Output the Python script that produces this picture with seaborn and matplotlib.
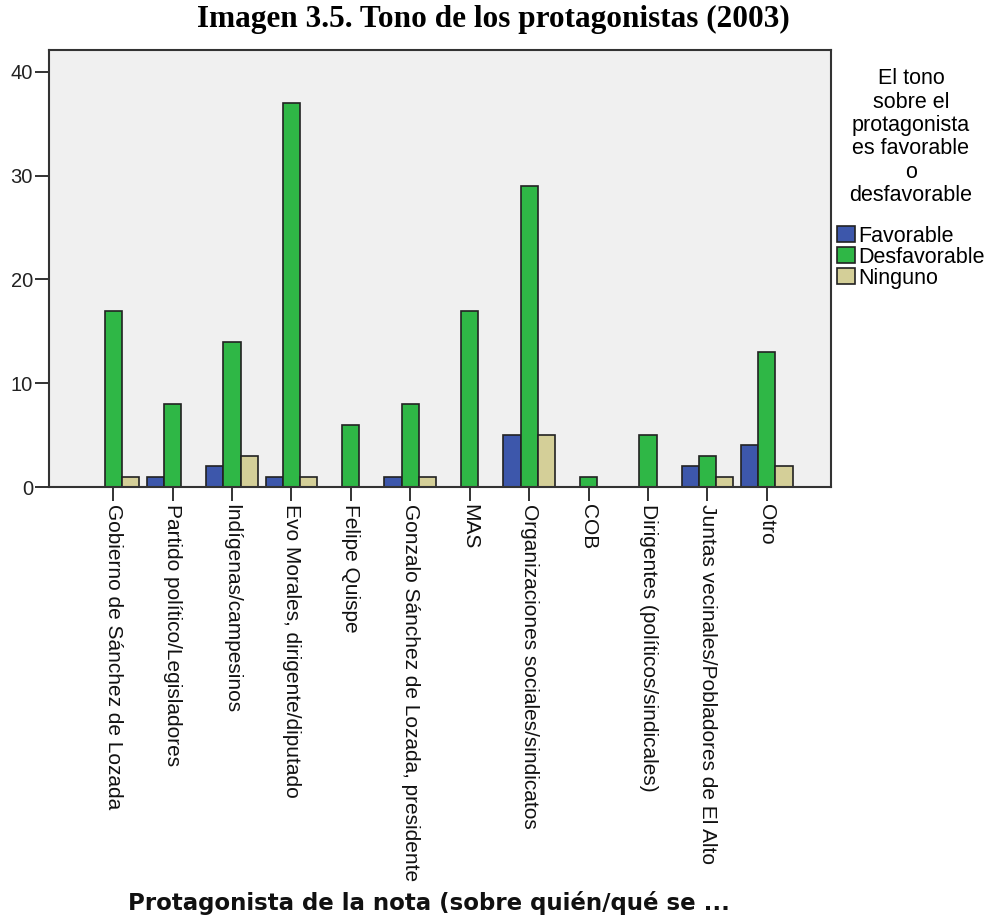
import matplotlib
matplotlib.use("Agg")
import matplotlib.pyplot as plt
import numpy as np
import pandas as pd
import seaborn as sns

# categories (protagonistas) and counts per tone
protagonistas = ['Gobierno de Sánchez de Lozada', 'Partido político/Legisladores',
                 'Indígenas/campesinos', 'Evo Morales, dirigente/diputado',
                 'Felipe Quispe', 'Gonzalo Sánchez de Lozada, presidente', 'MAS',
                 'Organizaciones sociales/sindicatos', 'COB',
                 'Dirigentes (políticos/sindicales)',
                 'Juntas vecinales/Pobladores de El Alto', 'Otro']
tonos = ['Favorable', 'Desfavorable', 'Ninguno']
favorable = [0, 1, 2, 1, 0, 1, 0, 5, 0, 0, 2, 4]
desfavorable = [17, 8, 14, 37, 6, 8, 17, 29, 1, 5, 3, 13]
ninguno = [1, 0, 3, 1, 0, 1, 0, 5, 0, 0, 1, 2]
colores = ['#3d57ab', '#2fb746', '#d4cf98']

#%%
df = pd.DataFrame({'Protagonista': protagonistas * 3,
                   'Tono': np.repeat(tonos, len(protagonistas)),
                   'Recuento': favorable + desfavorable + ninguno})

fig = plt.figure(figsize=(9.87, 9.22), dpi=100)
ax = fig.add_axes([0.0496, 0.4718, 0.7924, 0.474])
sns.barplot(ax=ax, data=df, x='Protagonista', y='Recuento', hue='Tono',
            hue_order=tonos, order=protagonistas, palette=colores,
            width=0.87, gap=0, edgecolor='#222222', linewidth=1.2,
            saturation=1)

handles, labels = ax.get_legend_handles_labels()
ax.get_legend().remove()

# SPSS does not draw empty bars
for p in ax.patches:
    if p.get_height() == 0 and p.get_width() > 0:
        p.set_visible(False)

ax.set_facecolor('#f0f0f0')
ax.set_xlim(-1.08, len(protagonistas) - 1 + 1.08)
ax.set_ylim(0, 42.1)
ax.set_yticks([0, 10, 20, 30, 40])
for s in ax.spines.values():
    s.set_color('#333333')
    s.set_linewidth(1.5)

lab_font = 'Liberation Sans'
ax.tick_params(axis='x', length=10, width=1.3, color='#222222', pad=2)
ax.tick_params(axis='y', length=10, width=1.3, color='#222222', pad=1.5,
               labelsize=14.5)
ax.set_xticks(range(len(protagonistas)))
ax.set_xticklabels(protagonistas, rotation=270, ha='center', va='top',
                   fontsize=15, family=lab_font, color='#111111')
for t in ax.get_yticklabels():
    t.set_family(lab_font)
    t.set_color('#222222')
ax.set_ylabel('')
ax.set_xlabel('')

fig.text(128 / 987, 0.021, 'Protagonista de la nota (sobre quién/qué se ...',
         ha='left', va='center', fontsize=16.5, fontweight='bold',
         family='DejaVu Sans', color='#111111')
fig.text(0.5, 0.979, 'Imagen 3.5. Tono de los protagonistas (2003)',
         ha='center', va='center', fontsize=22.5, fontweight='bold',
         family='Liberation Serif')

leg = fig.legend(handles, labels,
                 title='El tono\nsobre el\nprotagonista\nes favorable\no\ndesfavorable',
                 loc='upper left', bbox_to_anchor=(0.848, 0.926), frameon=False,
                 prop={'family': lab_font, 'size': 15.5},
                 title_fontproperties={'family': lab_font, 'size': 15.5},
                 handlelength=0.85, handleheight=0.8, handletextpad=0.15,
                 labelspacing=0.0, borderaxespad=0, borderpad=0)
leg.get_title().set_multialignment('center')
leg.get_title().set_linespacing(1.15)
leg._legend_box.sep = 14
for h in leg.legend_handles:
    h.set_edgecolor('#222222')
    h.set_linewidth(1.2)

fig.savefig('out.png', dpi=100)
